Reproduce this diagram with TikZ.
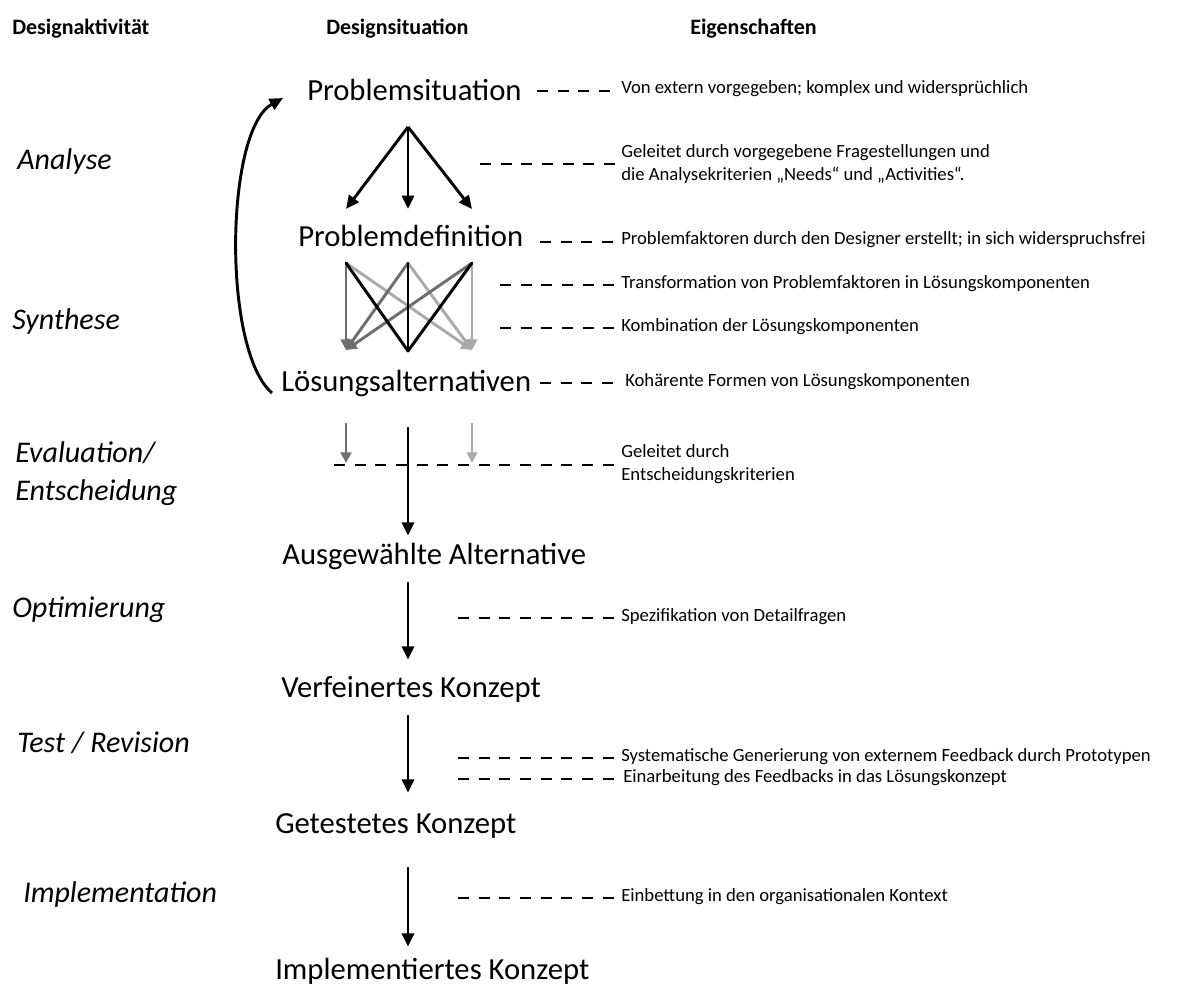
\documentclass[tikz,border=0pt]{standalone}
\usepackage{fontspec}
\setmainfont{Carlito}
\usetikzlibrary{arrows.meta}
\definecolor{midgrey}{HTML}{6E6E6E}
\definecolor{lightgrey}{HTML}{AAAAAA}

\begin{document}
\begin{tikzpicture}[x=0.75pt,y=-0.75pt,
  head/.style={font=\fontsize{16.5}{20}\selectfont\bfseries, inner sep=0, anchor=base west},
  activity/.style={font=\fontsize{22.5}{27}\selectfont\itshape, inner sep=0, anchor=base west},
  situ/.style={font=\fontsize{23}{28}\selectfont, inner xsep=0, inner ysep=9pt,
               text height=15pt, text depth=4.5pt, anchor=base west},
  prop/.style={font=\fontsize{14}{17.5}\selectfont, inner xsep=3pt, inner ysep=0,
               anchor=west, align=left},
  flow/.style={line width=2.2pt, -{Triangle[length=10pt,width=9pt]}},
  thin flow/.style={line width=2.2pt, -{Triangle[length=8pt,width=8pt]}},
  plain flow/.style={line width=2.2pt, line cap=round},
  link/.style={line width=2.2pt, dash pattern=on 8.25pt off 7.25pt},
]
\useasboundingbox (0,0) rectangle (1200,987);

% column headings
\node[head] (hAct)  at (12,35)  {Designaktivität};
\node[head] (hSit)  at (326,35) {Designsituation};
\node[head] (hProp) at (690,35) {Eigenschaften};

% design activities
\node[activity] (aAna) at (17,170) {Analyse};
\node[activity] (aSyn) at (12,330) {Synthese};
\node[activity] (aEva) at (15,463) {Evaluation/};
\node[activity] (aEnt) at (15,500) {Entscheidung};
\node[activity] (aOpt) at (12,617) {Optimierung};
\node[activity] (aTst) at (17,752) {Test / Revision};
\node[activity] (aImp) at (23,902) {Implementation};

% design situations
\node[situ] (ps) at (307,101) {Problemsituation};
\node[situ] (pd) at (298,247) {Problemdefinition};
\node[situ] (la) at (281,392) {Lösungsalternativen};
\node[situ] (aa) at (282,564) {Ausgewählte Alternative};
\node[situ] (vk) at (281,697) {Verfeinertes Konzept};
\node[situ] (gk) at (275,833) {Getestetes Konzept};
\node[situ] (ik) at (275,979) {Implementiertes Konzept};

\coordinate (spine) at (408,0);

% analysis: problem situation splits into problem factors
\coordinate (fork) at (408,127);
\coordinate (pdA) at (346,209);
\coordinate (pdB) at (408,209);
\coordinate (pdC) at (472,209);
\draw[flow] (fork) -- (pdA);
\draw[flow] (fork) -- (pdB);
\draw[flow] (fork) -- (pdC);

% synthesis: every factor feeds every alternative
\coordinate (xa) at (346,263);
\coordinate (xb) at (408,263);
\coordinate (xc) at (472,263);
\coordinate (ya) at (346,350);
\coordinate (yb) at (408,351);
\coordinate (yc) at (472,350);
\foreach \s in {xa,xb,xc} \draw[thin flow, lightgrey] (\s) -- (yc);
\foreach \s in {xa,xb,xc} \draw[thin flow, midgrey] (\s) -- (ya);
\foreach \s in {xa,xb,xc} \draw[plain flow, black] (\s) -- (yb);

% feedback loop from alternatives back to the problem situation
\draw[flow] ([shift={(-9,8)}]la.west) .. controls (222,350) and (225,130) .. ([shift={(-24,4)}]ps.west);

% evaluation: only one alternative passes the decision criteria
\coordinate (ev1s) at (346,423);
\coordinate (ev1e) at (346,463);
\coordinate (ev3s) at (472,423);
\coordinate (ev3e) at (472,463);
\draw[thin flow, midgrey] (ev1s) -- (ev1e);
\draw[thin flow, lightgrey] (ev3s) -- (ev3e);
\draw[flow, shorten <=12.75pt, shorten >=-3pt] (la.south -| spine) -- (aa.north -| spine);

% remaining steps
\draw[flow] (aa.south -| spine) -- ([yshift=3.75pt]vk.north -| spine);
\draw[flow] (vk.south -| spine) -- ([yshift=6pt]gk.north -| spine);
\draw[flow, shorten <=12pt] (gk.south -| spine) -- ([yshift=0pt]ik.north -| spine);

% properties
\node[prop] (e1) at (617,89)  {Von extern vorgegeben; komplex und widersprüchlich};
\node[prop] (e2) at (617,164) {Geleitet durch vorgegebene Fragestellungen und\\die Analysekriterien „Needs“ und „Activities“.};
\node[prop] (e3) at (617,240) {Problemfaktoren durch den Designer erstellt; in sich widerspruchsfrei};
\node[prop] (e4) at (617,284) {Transformation von Problemfaktoren in Lösungskomponenten};
\node[prop] (e5) at (617,327) {Kombination der Lösungskomponenten};
\node[prop] (e6) at (621,382) {Kohärente Formen von Lösungskomponenten};
\node[prop] (e7) at (617,464) {Geleitet durch\\Entscheidungskriterien};
\node[prop] (e8) at (617,617) {Spezifikation von Detailfragen};
\node[prop] (e9) at (617,757) {Systematische Generierung von externem Feedback durch Prototypen};
\node[prop] (e10) at (619,778) {Einarbeitung des Feedbacks in das Lösungskonzept};
\node[prop] (e11) at (617,897) {Einbettung in den organisationalen Kontext};

% dashed leaders to the properties
\coordinate (d1) at (537,91);
\coordinate (d2) at (480,164);
\coordinate (d3) at (540,242);
\coordinate (d4) at (500,285);
\coordinate (d5) at (500,328);
\coordinate (d6) at (540,383);
\coordinate (d7) at (334,465);
\coordinate (d8) at (458,618);
\coordinate (d9) at (458,758);
\coordinate (d10) at (458,779);
\coordinate (d11) at (458,898);
\draw[link] (d1) -- (d1 -| e1.west);
\draw[link] (d2) -- (d2 -| e2.west);
\draw[link] (d3) -- (d3 -| e3.west);
\draw[link] (d4) -- (d4 -| e4.west);
\draw[link] (d5) -- (d5 -| e5.west);
\draw[link] (d6) -- ([xshift=-3pt]d6 -| e6.west);
\draw[link] (d7) -- (d7 -| e7.west);
\draw[link] (d8) -- (d8 -| e8.west);
\draw[link] (d9) -- (d9 -| e9.west);
\draw[link] (d10) -- (d10 -| e10.west);
\draw[link] (d11) -- (d11 -| e11.west);
\end{tikzpicture}
\end{document}
